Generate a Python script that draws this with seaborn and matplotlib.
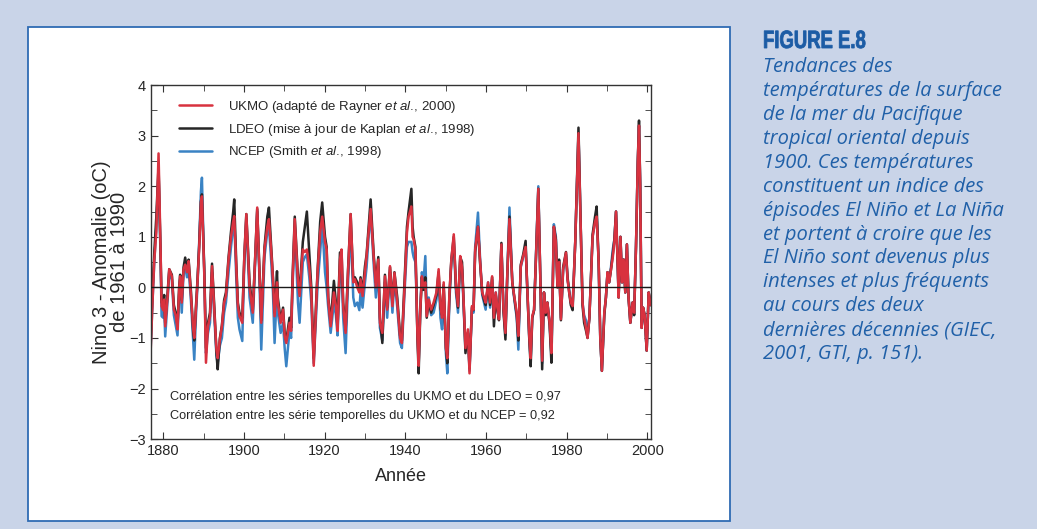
import matplotlib
matplotlib.use("Agg")
import matplotlib.pyplot as plt
import matplotlib.patches as mpatches
from matplotlib.ticker import MultipleLocator
from matplotlib.textpath import TextPath
from matplotlib.font_manager import FontProperties
from matplotlib.transforms import Affine2D
import seaborn as sns

# Nino 3 SST anomalies (degC, vs 1961-1990)
years = [
    1876.9, 1877.4, 1877.8, 1878.3, 1878.85, 1879.35, 1879.6, 1880.0, 1880.25, 1880.5,
    1881.1, 1881.5, 1882.15, 1882.65, 1883.1, 1883.55, 1883.95, 1884.2, 1884.6, 1885.05,
    1885.45, 1885.9, 1886.3, 1886.9, 1887.45, 1887.7, 1888.1, 1888.5, 1888.9, 1889.35,
    1889.6, 1890.2, 1890.6, 1891.1, 1891.6, 1892.1, 1892.65, 1893.2, 1893.5, 1894.05,
    1894.55, 1895.1, 1895.55, 1896.2, 1896.8, 1897.35, 1897.6, 1898.1, 1898.5, 1898.9,
    1899.6, 1900.1, 1900.6, 1901.4, 1902.2, 1902.8, 1903.3, 1903.8, 1904.3, 1905.1,
    1905.8, 1906.2, 1906.7, 1907.2, 1907.6, 1908.2, 1908.4, 1909.1, 1909.7, 1910.1,
    1910.5, 1911.3, 1911.7, 1912.1, 1912.6, 1913.4, 1913.8, 1914.6, 1915.1, 1915.6,
    1916.2, 1916.7, 1917.3, 1918.0, 1918.3, 1918.9, 1919.4, 1920.1, 1920.5, 1920.9,
    1921.5, 1922.3, 1922.8, 1923.2, 1923.8, 1924.2, 1924.6, 1925.2, 1925.8, 1926.45,
    1927.1, 1927.5, 1928.1, 1928.6, 1928.9, 1929.4, 1930.0, 1930.4, 1930.9, 1931.4,
    1932.2, 1932.7, 1933.3, 1933.7, 1934.3, 1934.95, 1935.5, 1936.2, 1936.8, 1937.3,
    1938.0, 1938.7, 1939.15, 1939.8, 1940.4, 1940.8, 1941.5, 1941.8, 1942.05, 1942.5,
    1942.7, 1943.0, 1943.3, 1943.7, 1944.1, 1944.5, 1944.95, 1945.3, 1945.8, 1946.4,
    1947.0, 1947.7, 1948.25, 1948.7, 1949.1, 1949.5, 1950.05, 1950.4, 1950.9, 1951.4,
    1952.0, 1952.55, 1953.05, 1953.6, 1954.05, 1954.45, 1954.9, 1955.5, 1955.9, 1956.5,
    1956.9, 1957.3, 1958.0, 1958.5, 1959.05, 1959.5, 1959.9, 1960.5, 1961.0, 1961.5,
    1961.95, 1962.4, 1962.8, 1963.2, 1963.8, 1964.3, 1964.8, 1965.25, 1965.8, 1966.5,
    1967.1, 1967.6, 1968.0, 1968.6, 1969.2, 1969.8, 1970.2, 1970.7, 1971.05, 1971.45,
    1971.9, 1972.35, 1972.95, 1973.5, 1973.9, 1974.35, 1974.8, 1975.2, 1975.75, 1976.2,
    1976.8, 1977.3, 1977.7, 1978.1, 1978.55, 1979.1, 1979.8, 1980.2, 1980.6, 1981.0,
    1981.45, 1982.1, 1982.5, 1982.9, 1983.5, 1983.9, 1984.3, 1984.75, 1985.15, 1985.6,
    1986.4, 1987.0, 1987.4, 1987.9, 1988.3, 1988.7, 1989.3, 1989.7, 1990.1, 1990.5,
    1990.95, 1991.4, 1991.8, 1992.2, 1992.6, 1992.85, 1993.3, 1993.7, 1994.1, 1994.5,
    1994.9, 1995.3, 1995.75, 1996.3, 1996.7, 1997.15, 1997.6, 1997.9, 1998.2, 1998.55,
    1998.9, 1999.3, 1999.8, 2000.3, 2000.8,
]

ukmo = [
    -1.25, -0.2, 0.55, 1.1, 2.65, 0.75, -0.37, -0.45, -0.24, -0.77,
    -0.17, 0.36, 0.22, -0.44, -0.55, -0.83, -0.04, 0.22, -0.3, 0.36,
    0.45, 0.3, 0.52, -0.17, -0.83, -1.0, -0.44, 0.1, 0.75, 1.68,
    1.8, 0.22, -1.49, -0.77, -0.57, 0.42, -0.44, -1.23, -1.4, -1.03,
    -0.77, -0.3, -0.17, 0.55, 1.0, 1.3, 1.41, 0.4, -0.37, -0.57,
    -0.7, 0.6, 1.45, 0.0, -0.5, 0.6, 1.58, 0.4, -0.7, 0.75,
    1.2, 1.35, 0.8, 0.16, -0.57, 0.1, -0.3, -0.7, -0.44, -0.96,
    -1.1, -0.7, -0.86, 0.2, 1.35, 0.1, -0.17, 0.75, 0.7, 0.75,
    0.4, -0.1, -1.55, -0.17, 0.36, 1.1, 1.4, 0.9, 0.75, -0.24,
    -0.77, -0.1, -0.37, -0.86, 0.55, 0.75, -0.37, -0.9, 0.3, 1.45,
    0.1, 0.16, 0.0, -0.1, 0.16, -0.17, 0.3, 0.62, 1.1, 1.55,
    0.55, 0.0, 0.55, -0.7, -0.9, 0.22, -0.44, 0.42, -0.37, 0.29,
    -0.3, -1.0, -1.1, 0.0, 1.08, 1.4, 1.6, 1.0, 0.95, 0.75,
    0.1, -0.96, -1.55, -0.44, 0.22, 0.0, 0.1, -0.57, -0.24, -0.44,
    -0.3, -0.1, 0.36, -0.37, -0.6, 0.1, -1.2, -1.4, -0.17, 0.55,
    1.05, 0.0, -0.37, 0.62, 0.4, -0.3, -1.2, -0.83, -1.7, -0.37,
    -0.44, 0.75, 1.2, 0.55, -0.1, -0.2, -0.3, 0.1, -0.3, 0.22,
    -0.6, -0.1, -0.4, -0.63, 0.85, -0.4, -0.9, 0.22, 1.35, 0.1,
    -0.24, -0.5, -0.96, 0.42, 0.62, 0.8, 0.0, -0.96, -1.4, -0.57,
    -0.44, 0.55, 1.95, 0.0, -1.45, -0.1, -0.5, -0.3, -0.7, -1.3,
    1.2, 0.9, 0.0, 0.5, -0.63, 0.36, 0.69, 0.15, -0.1, -0.3,
    -0.37, 0.9, 2.0, 3.05, 1.0, -0.3, -0.6, -0.8, -1.0, -0.6,
    1.0, 1.3, 1.4, 0.5, -1.0, -1.65, -0.5, -0.2, 0.3, 0.1,
    0.35, 0.6, 0.9, 1.5, 0.5, -0.2, 1.0, 0.1, 0.55, -0.1,
    0.85, -0.2, -0.7, -0.3, -0.5, 0.8, 2.5, 3.2, 2.0, -0.8,
    -0.4, -0.55, -1.25, -0.1, -0.35,
]

ldeo = [
    -1.1, 0.0, 0.7, 1.4, 2.4, 0.7, -0.3, -0.3, -0.15, -0.7,
    -0.1, 0.36, 0.25, -0.35, -0.5, -0.75, 0.0, 0.25, -0.25, 0.4,
    0.59, 0.35, 0.55, -0.1, -0.9, -1.05, -0.4, 0.15, 0.8, 1.7,
    1.84, 0.3, -1.2, -0.7, -0.5, 0.47, -0.35, -1.3, -1.62, -1.0,
    -0.75, -0.25, -0.1, 0.6, 1.1, 1.5, 1.74, 0.5, -0.3, -0.5,
    -0.6, 0.6, 1.45, 0.1, -0.45, 0.6, 1.55, 0.45, -0.65, 0.8,
    1.4, 1.58, 0.9, 0.2, -0.5, 0.32, -0.2, -0.65, -0.4, -0.9,
    -1.05, -0.6, -0.8, 0.3, 1.4, 0.2, -0.1, 0.9, 1.2, 1.5,
    0.7, 0.0, -1.4, -0.1, 0.4, 1.3, 1.68, 1.0, 0.8, -0.2,
    -0.7, 0.13, -0.3, -0.8, 0.69, 0.7, -0.3, -0.85, 0.35, 1.45,
    0.15, 0.2, 0.1, -0.05, 0.2, -0.1, 0.42, 0.65, 1.2, 1.74,
    0.6, 0.1, 0.6, -0.6, -1.1, 0.25, -0.4, 0.4, -0.3, 0.3,
    -0.2, -0.95, -1.05, 0.1, 1.2, 1.5, 1.95, 1.2, 1.0, 0.8,
    0.15, -1.0, -1.7, -0.5, 0.2, -0.05, 0.2, -0.6, -0.3, -0.5,
    -0.35, -0.15, 0.3, -0.4, -0.55, 0.05, -1.2, -1.5, -0.2, 0.55,
    1.0, 0.0, -0.4, 0.6, 0.5, -0.3, -1.3, -0.9, -1.6, -0.4,
    -0.45, 0.7, 1.2, 0.5, -0.1, -0.25, -0.35, 0.05, -0.35, 0.2,
    -0.77, -0.15, -0.45, -0.65, 0.88, -0.45, -1.03, 0.2, 1.4, 0.1,
    -0.25, -0.55, -1.05, 0.45, 0.65, 0.92, 0.0, -1.0, -1.56, -0.6,
    -0.45, 0.55, 1.95, 0.0, -1.62, -0.1, -0.55, -0.3, -0.75, -1.49,
    1.2, 0.95, 0.0, 0.55, -0.65, 0.4, 0.7, 0.2, -0.1, -0.35,
    -0.45, 0.9, 2.0, 3.16, 1.0, -0.35, -0.7, -0.85, -1.0, -0.6,
    1.05, 1.4, 1.6, 0.5, -1.0, -1.65, -0.55, -0.2, 0.3, 0.1,
    0.35, 0.65, 0.95, 1.5, 0.5, -0.2, 1.0, 0.1, 0.55, -0.1,
    0.85, -0.2, -0.7, -0.3, -0.55, 0.8, 2.5, 3.3, 2.0, -0.8,
    -0.4, -0.55, -1.25, -0.1, -0.35,
]

ncep = [
    -1.2, -0.2, 0.5, 1.2, 2.3, 0.6, -0.57, -0.6, -0.4, -0.97,
    -0.25, 0.3, 0.15, -0.55, -0.75, -0.95, -0.15, 0.15, -0.5, 0.3,
    0.4, 0.2, 0.4, -0.3, -1.1, -1.43, -0.6, 0.05, 0.85, 1.9,
    2.17, 0.2, -1.3, -0.9, -0.7, 0.3, -0.55, -1.35, -1.5, -1.15,
    -1.0, -0.5, -0.3, 0.3, 0.8, 1.2, 1.35, 0.2, -0.6, -0.83,
    -1.06, 0.5, 1.35, -0.2, -0.7, 0.5, 1.5, 0.3, -1.23, 0.6,
    1.1, 1.2, 0.6, -0.1, -1.1, 0.0, -0.5, -0.9, -0.7, -1.2,
    -1.56, -0.85, -1.0, 0.1, 1.2, -0.3, -0.7, 0.5, 0.6, 0.65,
    0.2, -0.3, -1.5, -0.4, 0.1, 0.7, 1.3, 0.3, 0.0, -0.4,
    -0.9, -0.3, -0.55, -0.95, 0.3, 0.4, -0.6, -1.3, 0.1, 1.2,
    -0.2, -0.37, -0.3, -0.45, -0.1, -0.4, 0.1, 0.4, 1.0, 1.5,
    0.4, -0.2, 0.4, -0.8, -1.05, 0.1, -0.6, 0.3, -0.5, 0.15,
    -0.4, -1.1, -1.2, -0.1, 0.8, 0.9, 0.9, 0.7, 0.6, 0.5,
    0.0, -0.9, -1.5, -0.4, 0.3, 0.1, 0.62, -0.4, -0.2, -0.55,
    -0.5, -0.25, 0.2, -0.6, -0.83, 0.0, -1.3, -1.7, -0.3, 0.5,
    0.9, -0.1, -0.5, 0.55, 0.35, -0.4, -1.25, -0.9, -1.65, -0.45,
    -0.5, 0.8, 1.48, 0.6, -0.15, -0.3, -0.44, 0.1, -0.4, 0.15,
    -0.6, -0.1, -0.45, -0.6, 0.85, -0.4, -0.95, 0.25, 1.58, 0.1,
    -0.3, -0.6, -1.23, 0.4, 0.6, 0.8, 0.0, -1.0, -1.45, -0.6,
    -0.45, 0.6, 2.0, 0.0, -1.5, -0.1, -0.5, -0.3, -0.7, -1.35,
    1.25, 1.0, 0.05, 0.5, -0.6, 0.35, 0.65, 0.15, -0.05, -0.3,
    -0.35, 0.9, 2.0, 3.05, 1.0, -0.3, -0.55, -0.65, -0.95, -0.6,
    1.0, 1.3, 1.45, 0.5, -1.0, -1.65, -0.5, -0.2, 0.3, 0.1,
    0.4, 0.75, 0.95, 1.5, 0.5, -0.2, 1.0, 0.1, 0.55, -0.1,
    0.85, -0.2, -0.7, -0.3, -0.5, 0.8, 2.5, 3.2, 2.0, -0.8,
    -0.4, -0.55, -1.25, -0.1, -0.35,
]

labels = [
    "UKMO (adapté de Rayner $\\mathit{et\\ al.}\\!$, 2000)",
    "LDEO (mise à jour de Kaplan $\\mathit{et\\ al.}\\!$, 1998)",
    "NCEP (Smith $\\mathit{et\\ al.}\\!$, 1998)",
]
colors = ["#d8323f", "#262626", "#3a83c4"]

corr_text = [
    "Corrélation entre les séries temporelles du UKMO et du LDEO = 0,97",
    "Corrélation entre les série temporelles du UKMO et du NCEP = 0,92",
]

caption_title = "FIGURE E.8"
caption_lines = [
    "Tendances des",
    "températures de la surface",
    "de la mer du Pacifique",
    "tropical oriental depuis",
    "1900. Ces températures",
    "constituent un indice des",
    "épisodes El Niño et La Niña",
    "et portent à croire que les",
    "El Niño sont devenus plus",
    "intenses et plus fréquents",
    "au cours des deux",
    "dernières décennies (GIEC,",
    "2001, GTI, p. 151).",
]

sns.set_style("ticks")
plt.rcParams["font.family"] = ["Liberation Sans", "DejaVu Sans"]
plt.rcParams["mathtext.fontset"] = "custom"
plt.rcParams["mathtext.rm"] = "Liberation Sans"
plt.rcParams["mathtext.it"] = "Liberation Sans:italic"

fig = plt.figure(figsize=(10.37, 5.29), dpi=100, facecolor="#c9d4e8")

# white panel behind the chart
panel = mpatches.Rectangle((28 / 1037, 1 - 521 / 529), 702 / 1037, 494 / 529,
                           transform=fig.transFigure, facecolor="white",
                           edgecolor="#2f6bb3", linewidth=1.3, zorder=-10)
fig.add_artist(panel)

ax = fig.add_axes([0.1453, 0.170, 0.4822, 0.669])
ax.set_facecolor("white")

# draw blue first, red on top
series = [ncep, ldeo, ukmo]
order = [2, 1, 0]
for vals, i in zip(series, order):
    sns.lineplot(x=years, y=vals, ax=ax, color=colors[i], linewidth=1.8,
                 sort=False, estimator=None)

ax.axhline(0, color="#1a1a1a", linewidth=1.0, zorder=5)

handles = [plt.Line2D([], [], color=c, linewidth=1.8) for c in colors]
ax.legend(handles, labels, loc="upper left", bbox_to_anchor=(0.047, 0.976),
          frameon=False, fontsize=9.5, handlelength=2.5, handletextpad=1.2,
          labelspacing=0.5, borderaxespad=0)

ax.text(1881.7, -2.17, corr_text[0], fontsize=9.2, va="center")
ax.text(1881.7, -2.55, corr_text[1], fontsize=9.2, va="center")

ax.set_xlim(1876.9, 2000.8)
ax.set_ylim(-3, 4)
ax.xaxis.set_major_locator(MultipleLocator(20))
ax.xaxis.set_minor_locator(MultipleLocator(10))
ax.yaxis.set_major_locator(MultipleLocator(1))
ax.yaxis.set_minor_locator(MultipleLocator(0.5))
ax.tick_params(which="both", direction="in", top=True, right=True,
               labelsize=10.5, color="#333333")
ax.tick_params(which="major", length=5)
ax.tick_params(which="minor", length=4)
for s in ax.spines.values():
    s.set_color("#333333")
    s.set_linewidth(1.0)

ax.set_xlabel("Année", fontsize=13, labelpad=7)
ax.set_ylabel("Nino 3 - Anomalie (oC)\nde 1961 à 1990", fontsize=14.5,
              labelpad=0, linespacing=0.95)

# caption title, squeezed horizontally to mimic a condensed face
title_path = TextPath((0, 0), caption_title, size=25,
                      prop=FontProperties(family="Liberation Sans", weight="bold"))
title_patch = mpatches.PathPatch(title_path, facecolor="#1c5ca5", edgecolor="#1c5ca5",
                                 linewidth=0.6,
                                 transform=Affine2D().scale(0.74, 1.0).translate(763, 481))
fig.add_artist(title_patch)

for k, line in enumerate(caption_lines):
    fig.text(763 / 1037, 1 - (67.5 + 23.87 * k) / 529, line,
             family=["Open Sans", "DejaVu Sans"], style="italic",
             fontsize=14.5, color="#2060a8", va="center")

fig.savefig("out.png", dpi=100, facecolor=fig.get_facecolor())
